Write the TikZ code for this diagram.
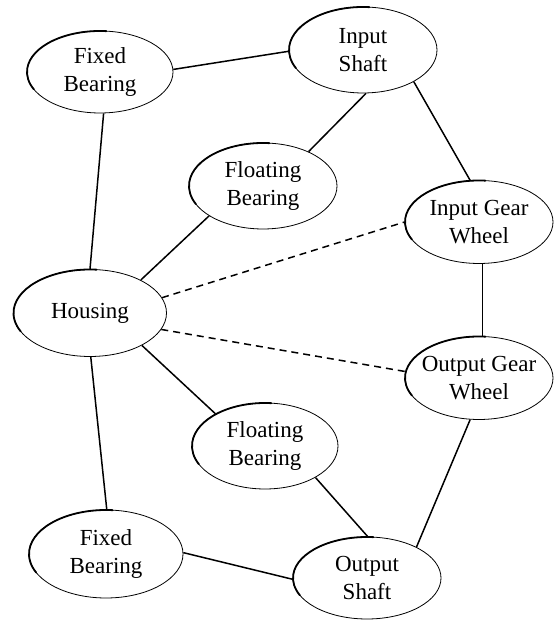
\documentclass[tikz,border=0pt]{standalone}
\usepackage{fontspec}
\setmainfont{Liberation Serif}
\usetikzlibrary{shapes.geometric,calc}
\tikzset{
  ell/.style={ellipse, draw, line width=0.8pt, inner xsep=-12pt, inner ysep=0pt, align=center,
    font=\fontsize{23}{28}\selectfont},
  link/.style={line width=1.5pt},
  dlink/.style={line width=1.5pt, dash pattern=on 7pt off 5pt},
}
\newcommand\enode[6]{% name, x, y, w, h, text
  \node[ell, minimum width=#4pt, minimum height=#5pt] (#1) at (#2,#3) {#6};
  \draw[line width=1.8pt, line cap=round] ($(#2,#3)+({#4/2*cos(85)},{#5/2*sin(85)})$)
     arc[start angle=85, end angle=205, x radius=#4/2*1pt, y radius=#5/2*1pt];
}
\begin{document}
\begin{tikzpicture}[x=1pt,y=1pt]
\useasboundingbox (0,0) rectangle (554,620);
\enode{fbt}{100}{548}{146}{82}{Fixed\\Bearing}
\enode{ins}{363}{570}{148}{86}{Input\\Shaft}
\enode{flt}{263}{434}{148}{86}{Floating\\Bearing}
\enode{igw}{479}{398}{148}{83}{Input Gear\\Wheel}
\enode{hou}{90}{307}{153}{87}{Housing}
\enode{ogw}{479}{242}{148}{83}{Output Gear\\Wheel}
\enode{flb}{265}{174}{146}{86}{Floating\\Bearing}
\enode{fbb}{106}{66}{154}{88}{Fixed\\Bearing}
\enode{osh}{367}{42}{148}{82}{Output\\Shaft}
\draw[link] (fbt.2) -- (ins.181);
\draw[link] (fbt.-85) -- (hou.90);
\draw[link] (ins.-86) -- (flt.37);
\draw[link] (ins.-32) -- (igw.102);
\draw[link] (flt.-151) -- (hou.33);
\draw[dlink] (hou.12) -- (igw.180);
\draw[dlink] (hou.-13) -- (ogw.175);
\draw[link] (igw.-85) -- (ogw.85);
\draw[link] (hou.-32) -- (flb.147);
\draw[link] (hou.-89) -- (fbb.89);
\draw[link] (flb.-32) -- (osh.89);
\draw[link] (ogw.-102) -- (osh.32);
\draw[link] (fbb.1) -- (osh.-179);
\end{tikzpicture}
\end{document}
